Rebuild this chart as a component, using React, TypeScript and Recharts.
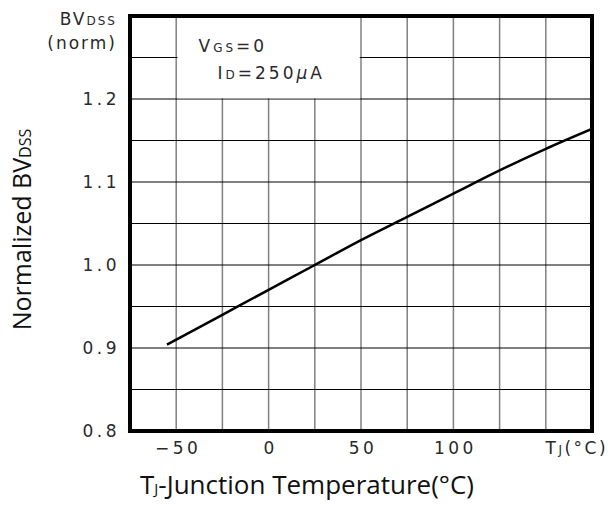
import React from 'react';
import {
  LineChart,
  Line,
  XAxis,
  YAxis,
  CartesianGrid,
  ReferenceArea,
  Label,
} from 'recharts';

// Normalized breakdown voltage vs junction temperature
const temps = [-55, -25, 0, 25, 50, 75, 100, 125, 150, 175];
const bvNorm = [0.904, 0.94, 0.97, 1.0, 1.03, 1.058, 1.086, 1.114, 1.14, 1.164];

const xTicks = [-50, -25, 0, 25, 50, 75, 100, 125, 150];
const xTickLabels = ['\u221250', '', '0', '', '50', '', '100', '', 'TJ'];
const yTicks = [0.8, 0.85, 0.9, 0.95, 1.0, 1.05, 1.1, 1.15, 1.2, 1.25, 1.3];
const yTickLabels = ['0.8', '', '0.9', '', '1.0', '', '1.1', '', '1.2', '', 'BV'];

const data = temps.map((t, i) => ({ t, bv: bvNorm[i] }));

const TICK_FONT = '"DejaVu Sans", sans-serif';
const TITLE_FONT = '"Open Sans", sans-serif';
const TICK_COLOR = '#2a2a2a';

function XTick({ x, y, index }: any) {
  const label = xTickLabels[index];
  if (!label) return null;
  if (label === 'TJ') {
    return (
      <text x={x + 31} y={y + 23} textAnchor="middle" fill={TICK_COLOR}
        fontFamily={TICK_FONT} fontSize={17} letterSpacing={2.5}>
        T<tspan fontSize={12}>J</tspan>(°C)
      </text>
    );
  }
  return (
    <text x={x + 2} y={y + 23} textAnchor="middle" fill={TICK_COLOR}
      fontFamily={TICK_FONT} fontSize={17} letterSpacing={3.5}>
      {label}
    </text>
  );
}

function YTick({ x, y, index }: any) {
  const label = yTickLabels[index];
  if (!label) return null;
  if (label === 'BV') {
    return (
      <g fill={TICK_COLOR} fontFamily={TICK_FONT} fontSize={17} letterSpacing={2}>
        <text x={x - 13} y={y + 9} textAnchor="end">
          BV<tspan fontSize={12}>DSS</tspan>
        </text>
        <text x={x - 13} y={y + 33} textAnchor="end">(norm)</text>
      </g>
    );
  }
  return (
    <text x={x - 10} y={y + 6} textAnchor="end" fill={TICK_COLOR}
      fontFamily={TICK_FONT} fontSize={17} letterSpacing={3.5}>
      {label}
    </text>
  );
}

function Conditions({ viewBox }: any) {
  const { x, y } = viewBox;
  return (
    <g fill={TICK_COLOR} fontFamily={TICK_FONT} fontSize={17} letterSpacing={3}>
      <text x={x + 21} y={y + 36}>
        V<tspan fontSize={12}>GS</tspan>=0
      </text>
      <text x={x + 40} y={y + 63}>
        I<tspan fontSize={12}>D</tspan>=250<tspan fontStyle="italic">μ</tspan>A
      </text>
    </g>
  );
}

function XTitle({ viewBox }: any) {
  const { x, y } = viewBox;
  return (
    <text x={x + 177} y={y + 63} textAnchor="middle" fill="#111"
      fontFamily={TITLE_FONT} fontSize={26}>
      T<tspan fontSize={15}>J</tspan>-Junction Temperature(°C)
    </text>
  );
}

function YTitle({ viewBox }: any) {
  const cx = 31;
  const cy = viewBox.y + viewBox.height / 2 + 6;
  return (
    <text x={cx} y={cy} transform={`rotate(-90, ${cx}, ${cy})`} textAnchor="middle"
      fill="#111" fontFamily={TITLE_FONT} fontSize={25}>
      Normalized BV<tspan fontSize={16}>DSS</tspan>
    </text>
  );
}

export default function App() {
  return (
    <div style={{ position: 'absolute', left: 0, top: 0, background: '#fff' }}>
      <LineChart width={608} height={507} data={data}
        margin={{ top: 16, right: 16, bottom: 46, left: 0 }}>
        <CartesianGrid horizontal={false} stroke="#808080" strokeWidth={1.5} />
        <CartesianGrid vertical={false} stroke="#000" strokeWidth={1} />
        <XAxis dataKey="t" type="number" domain={[-75, 175]} ticks={xTicks}
          allowDataOverflow interval={0} height={30} tickSize={0} tickMargin={0}
          axisLine={false} tickLine={false} tick={<XTick />}>
          <Label content={<XTitle />} />
        </XAxis>
        <YAxis type="number" domain={[0.8, 1.3]} ticks={yTicks} allowDataOverflow
          interval={0} width={130} tickSize={0} tickMargin={0}
          axisLine={false} tickLine={false} tick={<YTick />}>
          <Label content={<YTitle />} />
        </YAxis>
        <ReferenceArea x1={-49.3} x2={49.3} y1={1.201} y2={1.3} fill="#fff"
          fillOpacity={1} stroke="none">
          <Label content={<Conditions />} />
        </ReferenceArea>
        <Line type="monotone" dataKey="bv" stroke="#000" strokeWidth={2.5}
          dot={false} activeDot={false} isAnimationActive={false} />
        <ReferenceArea x1={-75} x2={175} y1={0.8} y2={1.3} fill="none"
          stroke="#000" strokeWidth={4} />
      </LineChart>
    </div>
  );
}
